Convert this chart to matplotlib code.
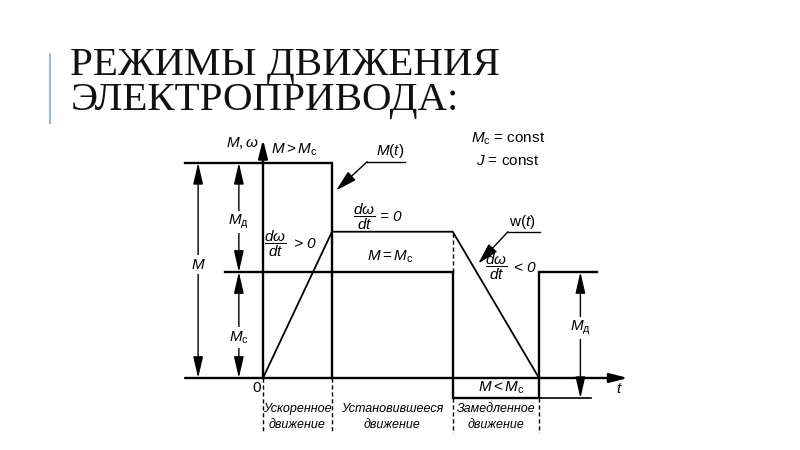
import matplotlib
matplotlib.use('Agg')
import matplotlib.pyplot as plt
from matplotlib.lines import Line2D

plt.rcParams['font.family'] = ['Liberation Sans', 'DejaVu Sans']
plt.rcParams['mathtext.fontset'] = 'custom'
plt.rcParams['mathtext.it'] = 'Liberation Sans:italic'
plt.rcParams['mathtext.rm'] = 'Liberation Sans'
plt.rcParams['mathtext.sf'] = 'Liberation Sans'

# заголовок слайда
title_lines = ['РЕЖИМЫ ДВИЖЕНИЯ', 'ЭЛЕКТРОПРИВОДА:']

# уровни (в долях M_c)
M_LEVEL = 2.03    # M > M_c
MC_LEVEL = 1.0    # M = M_c
W_LEVEL = 1.38    # установившаяся скорость
M_LOW = -0.19     # M < M_c

# границы режимов по времени
t_bounds = [0.0, 1.0, 2.75, 4.0]
phase_names = ['Ускоренное\nдвижение', 'Установившееся\nдвижение', 'Замедленное\nдвижение']

# M(t)
m_t = [-1.13, 1.0, 1.0, 2.75, 2.75, 4.0, 4.0, 4.84]
m_v = [M_LEVEL, M_LEVEL, MC_LEVEL, MC_LEVEL, M_LOW, M_LOW, MC_LEVEL, MC_LEVEL]

# w(t)
w_t = [0.0, 1.0, 2.75, 4.0]
w_v = [0.0, W_LEVEL, W_LEVEL, 0.0]

LW = 1.7
C = 'black'

fig = plt.figure(figsize=(8, 4.5), dpi=100)
fig.patch.set_facecolor('white')

# --- заголовок ---
fig.add_artist(Line2D([0.0625, 0.0625], [0.88, 0.727], color='#8fbfdc', lw=1.5))
fig.text(0.088, 0.833, title_lines[0], family='Liberation Serif', fontsize=29.5,
         va='baseline', ha='left', color='#111111')
fig.text(0.088, 0.756, title_lines[1], family='Liberation Serif', fontsize=29.5,
         va='baseline', ha='left', color='#111111')

# --- диаграмма ---
ax = fig.add_axes([0, 0, 1, 1])
ax.set_xlim(-263 / 69, 537 / 69)
ax.set_ylim(-72 / 106, 378 / 106)
ax.axis('off')

# оси
ax.annotate('', xy=(5.29, 0), xytext=(-1.13, 0),
            arrowprops=dict(arrowstyle='-|>,head_length=1.1,head_width=0.28',
                            mutation_scale=10, lw=LW, color=C, shrinkA=0, shrinkB=0))
ax.annotate('', xy=(0, 2.25), xytext=(0, 0),
            arrowprops=dict(arrowstyle='-|>,head_length=1.1,head_width=0.28',
                            mutation_scale=10, lw=LW, color=C, shrinkA=0, shrinkB=0))

# кривые
ax.plot(m_t, m_v, color=C, lw=LW, solid_joinstyle='miter')
ax.plot(w_t, w_v, color=C, lw=1.3)

# выносные линии
ax.plot([-0.55, t_bounds[1]], [MC_LEVEL, MC_LEVEL], color=C, lw=LW)
ax.plot([t_bounds[1], t_bounds[1]], [0, MC_LEVEL], color=C, lw=LW)
ax.plot([t_bounds[3], 4.75], [M_LOW, M_LOW], color=C, lw=1.2)
ax.plot([t_bounds[2], t_bounds[2]], [MC_LEVEL, W_LEVEL], color=C, lw=1.0, ls=(0, (3, 2)))

# пунктирные границы режимов
for tb in t_bounds:
    top = 0 if tb < 2 else M_LOW
    ax.plot([tb, tb], [top, -0.52], color=C, lw=1.0, ls=(0, (3, 2)))

# размерные стрелки
dim_style = '<|-|>,head_length=1.3,head_width=0.3'
dims = [(-0.94, 0, M_LEVEL), (-0.35, MC_LEVEL, M_LEVEL), (-0.35, 0, MC_LEVEL),
        (4.60, M_LOW, MC_LEVEL)]
for x, y0, y1 in dims:
    ax.annotate('', xy=(x, y1), xytext=(x, y0),
                arrowprops=dict(arrowstyle=dim_style, mutation_scale=10, lw=1.0,
                                color=C, shrinkA=0, shrinkB=0))

lbl = dict(fontsize=11, ha='center', va='center', color=C)
box = dict(facecolor='white', edgecolor='none', pad=1.5)
ax.text(-0.94, 1.07, r'$M$', bbox=box, **lbl)
ax.text(-0.35, 1.47, r'$M_{\mathrm{д}}$', bbox=box, **lbl)
ax.text(-0.35, 0.38, r'$M_{\mathrm{c}}$', bbox=box, **lbl)
ax.text(4.60, 0.47, r'$M_{\mathrm{д}}$', bbox=box, **lbl)

# выноски M(t) и w(t)
ax.plot([1.51, 2.06], [2.04, 2.04], color=C, lw=1.0)
ax.annotate('', xy=(1.06, 1.77), xytext=(1.51, 2.04),
            arrowprops=dict(arrowstyle='-|>,head_length=1.3,head_width=0.35',
                            mutation_scale=10, lw=1.0, color=C, shrinkA=0, shrinkB=0))
ax.text(1.84, 2.14, r'$M(t)$', **lbl)
ax.plot([3.55, 4.01], [1.38, 1.38], color=C, lw=1.0)
ax.annotate('', xy=(3.12, 1.08), xytext=(3.55, 1.38),
            arrowprops=dict(arrowstyle='-|>,head_length=1.3,head_width=0.35',
                            mutation_scale=10, lw=1.0, color=C, shrinkA=0, shrinkB=0))
ax.text(3.76, 1.47, r'$\mathrm{w}(t)$', **lbl)

# подписи
ax.text(-0.30, 2.22, r'$M,\omega$', **lbl)
ax.text(0.45, 2.15, r'$M > M_{\mathrm{c}}$', **lbl)
ax.text(3.02, 2.26, r'$M_{\mathrm{c}}$ = const', fontsize=11, ha='left', va='center')
ax.text(3.08, 2.05, r'$J$ = const', fontsize=11, ha='left', va='center')
ax.text(1.47, 1.52, r'$\dfrac{d\omega}{dt}$', **lbl)
ax.text(1.70, 1.52, '= 0', fontsize=11, style='italic', ha='left', va='center')
ax.text(1.84, 1.14, r'$M = M_{\mathrm{c}}$', **lbl)
ax.text(0.17, 1.27, r'$\dfrac{d\omega}{dt}$', **lbl)
ax.text(0.60, 1.26, '> 0', fontsize=11, style='italic', ha='center', va='center')
ax.text(3.38, 1.05, r'$\dfrac{d\omega}{dt}$', **lbl)
ax.text(3.80, 1.04, '< 0', fontsize=11, style='italic', ha='center', va='center')
ax.text(3.45, -0.094, r'$M < M_{\mathrm{c}}$', **lbl)
ax.text(5.16, -0.10, r'$t$', **lbl)
ax.text(-0.09, -0.094, '0', **lbl)

for i, name in enumerate(phase_names):
    tc = (t_bounds[i] + t_bounds[i + 1]) / 2
    ax.text(tc, -0.37, name, fontsize=9, style='italic', ha='center', va='center',
            linespacing=1.45)

fig.savefig('out.png', dpi=100, facecolor='white')
